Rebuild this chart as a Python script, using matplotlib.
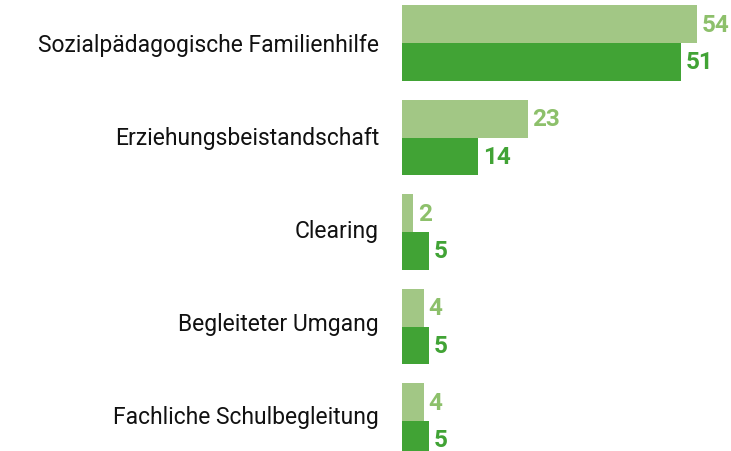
import matplotlib
matplotlib.use("Agg")
import matplotlib.pyplot as plt
import numpy as np

categories = ["Sozialpädagogische Familienhilfe", "Erziehungsbeistandschaft", "Clearing",
              "Begleiteter Umgang", "Fachliche Schulbegleitung"]
series_a = [54, 23, 2, 4, 4]   # light green (upper bar)
series_b = [51, 14, 5, 5, 5]   # dark green (lower bar)

light = "#a2c785"
dark = "#41a335"
light_txt = "#8dc06b"
dark_txt = "#41a335"

plt.rcParams['font.family'] = ['Roboto', 'DejaVu Sans']

fig = plt.figure(figsize=(7.31, 4.52), dpi=100)
W, H = 731, 452
x0 = 402
ax = fig.add_axes([x0 / W, 0, 1 - x0 / W, 1])
px_per_unit = (697 - 402) / 54
ax.set_xlim(0, (W - x0) / px_per_unit)
spacing = 94.5
top_center = 44
ax.set_ylim((H - top_center) / spacing, -top_center / spacing)
bh = 37.8 / spacing
y = np.arange(len(categories))
ax.barh(y - bh / 2, series_a, height=bh, color=light, linewidth=0)
ax.barh(y + bh / 2, series_b, height=bh, color=dark, linewidth=0)
ax.axis('off')

label_step = 93 / spacing
label_off = 8.3 / spacing
for i, (a, b) in enumerate(zip(series_a, series_b)):
    ax.annotate(str(a), (a, i - bh / 2), xytext=(3.5, 0), textcoords='offset points',
                va='center', ha='left', fontsize=17.5, fontweight='bold', color=light_txt,
                annotation_clip=False)
    ax.annotate(str(b), (b, i + bh / 2), xytext=(3.5, 0), textcoords='offset points',
                va='center', ha='left', fontsize=17.5, fontweight='bold', color=dark_txt,
                annotation_clip=False)
    ax.annotate(categories[i], (0, i * label_step + label_off), xytext=(-16.5, 0),
                textcoords='offset points', va='baseline', ha='right', fontsize=16.5,
                color='#111111', annotation_clip=False)

fig.savefig("out.png", dpi=100)
